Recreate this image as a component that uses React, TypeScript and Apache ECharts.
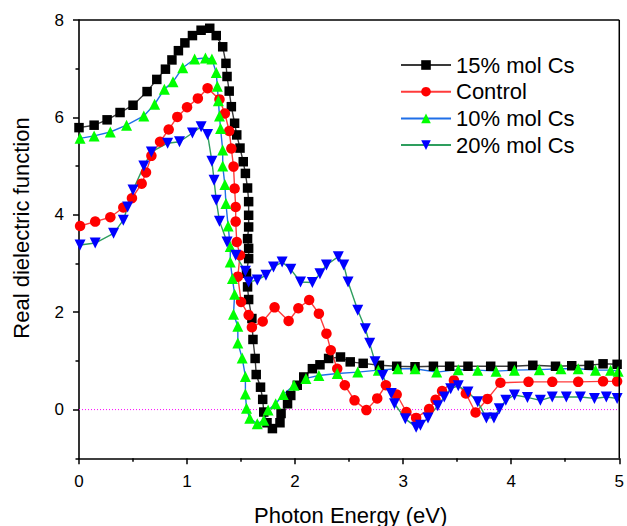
import React, { useEffect, useRef } from "react";
import * as echarts from "echarts";

const seriesNames = ["15% mol Cs", "Control", "10% mol Cs", "20% mol Cs"];

const cs15: number[][] = [
  [0.0, 5.79], [0.14, 5.84], [0.26, 5.95], [0.38, 6.1], [0.5, 6.25], [0.63, 6.53], [0.72, 6.78],
  [0.8, 6.99], [0.86, 7.18], [0.92, 7.37], [0.98, 7.53], [1.05, 7.68], [1.13, 7.79], [1.21, 7.83],
  [1.27, 7.68], [1.33, 7.45], [1.36, 7.11], [1.37, 6.84], [1.39, 6.54], [1.41, 6.22], [1.44, 5.88],
  [1.46, 5.64], [1.49, 5.37], [1.52, 5.09], [1.54, 4.85], [1.56, 4.55], [1.57, 4.27], [1.57, 3.99],
  [1.57, 3.75], [1.56, 3.51], [1.57, 3.31], [1.57, 3.1], [1.55, 2.8], [1.56, 2.52], [1.57, 2.26],
  [1.6, 1.87], [1.61, 1.44], [1.63, 1.05], [1.64, 0.72], [1.68, 0.46], [1.7, 0.21], [1.71, -0.05],
  [1.74, -0.27], [1.79, -0.39], [1.86, -0.27], [1.87, -0.08], [1.93, 0.12], [1.96, 0.29], [2.02, 0.5],
  [2.08, 0.67], [2.16, 0.84], [2.23, 0.92], [2.31, 1.05], [2.42, 1.08], [2.51, 0.98], [2.63, 0.95],
  [2.78, 0.91], [2.94, 0.89], [3.11, 0.88], [3.28, 0.89], [3.43, 0.89], [3.6, 0.89], [3.81, 0.89],
  [4.01, 0.89], [4.2, 0.91], [4.41, 0.89], [4.56, 0.9], [4.72, 0.91], [4.85, 0.94], [4.98, 0.93],
];

const control: number[][] = [
  [0.01, 3.77], [0.15, 3.86], [0.29, 3.95], [0.41, 4.15], [0.49, 4.34], [0.58, 4.64], [0.62, 4.87],
  [0.67, 5.21], [0.75, 5.5], [0.83, 5.75], [0.91, 6.01], [1.0, 6.21], [1.1, 6.39], [1.19, 6.6],
  [1.3, 6.37], [1.35, 6.08], [1.39, 5.72], [1.41, 5.36], [1.43, 4.99], [1.44, 4.54], [1.45, 4.16],
  [1.45, 3.86], [1.46, 3.44], [1.49, 3.17], [1.47, 2.73], [1.5, 2.21], [1.57, 1.94], [1.6, 1.69],
  [1.7, 1.81], [1.81, 2.1], [1.94, 1.82], [2.03, 2.08], [2.13, 2.25], [2.22, 1.97], [2.29, 1.56],
  [2.33, 1.22], [2.39, 0.84], [2.46, 0.5], [2.55, 0.19], [2.66, -0.01], [2.76, 0.23], [2.84, 0.5],
  [2.94, 0.31], [3.03, -0.05], [3.12, -0.17], [3.24, 0.01], [3.3, 0.2], [3.36, 0.38], [3.47, 0.6],
  [3.58, 0.33], [3.67, -0.06], [3.78, 0.22], [3.9, 0.55], [4.16, 0.57], [4.38, 0.57], [4.62, 0.57],
  [4.85, 0.58], [4.98, 0.58],
];

const cs10: number[][] = [
  [0.01, 5.57], [0.14, 5.62], [0.29, 5.7], [0.44, 5.84], [0.6, 6.03], [0.7, 6.27], [0.79, 6.58],
  [0.87, 6.73], [0.96, 7.02], [1.07, 7.2], [1.17, 7.22], [1.23, 7.2], [1.27, 6.92], [1.28, 6.64],
  [1.29, 6.34], [1.3, 6.03], [1.31, 5.77], [1.33, 5.33], [1.33, 5.0], [1.35, 4.62], [1.36, 4.23],
  [1.38, 3.77], [1.4, 3.35], [1.4, 3.03], [1.42, 2.69], [1.44, 2.37], [1.43, 1.96], [1.47, 1.71],
  [1.47, 1.37], [1.51, 1.06], [1.54, 0.68], [1.54, 0.32], [1.55, 0.03], [1.58, -0.18], [1.65, -0.29],
  [1.71, -0.22], [1.75, -0.01], [1.82, 0.12], [1.89, 0.31], [1.99, 0.5], [2.1, 0.64], [2.22, 0.7],
  [2.39, 0.74], [2.58, 0.77], [2.77, 0.81], [2.95, 0.84], [3.11, 0.84], [3.31, 0.77], [3.51, 0.82],
  [3.69, 0.81], [3.86, 0.79], [4.03, 0.81], [4.26, 0.82], [4.46, 0.84], [4.62, 0.84], [4.78, 0.81],
  [4.92, 0.81], [4.99, 0.79],
];

const cs20: number[][] = [
  [0.01, 3.38], [0.15, 3.42], [0.32, 3.62], [0.41, 3.89], [0.45, 4.16], [0.5, 4.51], [0.6, 5.0],
  [0.67, 5.29], [0.82, 5.47], [0.93, 5.5], [1.05, 5.68], [1.13, 5.81], [1.19, 5.65], [1.23, 5.1],
  [1.25, 4.71], [1.27, 4.3], [1.3, 3.87], [1.37, 3.44], [1.45, 3.17], [1.54, 2.84], [1.57, 2.62],
  [1.65, 2.66], [1.73, 2.76], [1.8, 2.93], [1.88, 3.03], [1.96, 2.88], [2.05, 2.62], [2.16, 2.61],
  [2.23, 2.79], [2.29, 2.97], [2.4, 3.14], [2.45, 2.97], [2.49, 2.62], [2.58, 2.04], [2.65, 1.66],
  [2.69, 1.36], [2.74, 0.98], [2.81, 0.7], [2.89, 0.33], [2.92, 0.12], [3.02, -0.19], [3.12, -0.36],
  [3.16, -0.32], [3.23, -0.17], [3.32, 0.08], [3.38, 0.26], [3.44, 0.43], [3.51, 0.49], [3.6, 0.36],
  [3.69, 0.16], [3.77, -0.17], [3.84, -0.17], [3.89, 0.02], [3.95, 0.19], [4.03, 0.3], [4.15, 0.25],
  [4.27, 0.19], [4.38, 0.26], [4.51, 0.26], [4.64, 0.26], [4.77, 0.23], [4.88, 0.26], [4.98, 0.23],
];

const zeroLine: number[][] = [
  [0, 0],
  [5, 0],
];

const X_MIN = 0;
const X_MAX = 5;
const Y_MIN = -1;
const Y_MAX = 8;
const yMajorTicks = [0, 2, 4, 6, 8];
const yMinorTicks = [-1, 1, 3, 5, 7];

const xTitle = "Photon Energy (eV)";
const yTitle = "Real dielectric function";

const FONT = "Liberation Sans";

export default function App() {
  const ref = useRef<HTMLDivElement>(null);

  useEffect(() => {
    if (!ref.current) return;
    const chart = echarts.init(ref.current, undefined, { renderer: "svg" });

    const mkSeries = (
      name: string,
      data: number[][],
      symbol: string,
      size: number,
      markerColor: string,
      lineColor: string,
      rotate = 0
    ) => ({
      name,
      type: "line",
      data,
      symbol,
      symbolSize: size,
      symbolRotate: rotate,
      showAllSymbol: true,
      itemStyle: { color: markerColor, borderWidth: 0 },
      lineStyle: { color: lineColor, width: 1.4 },
      emphasis: { disabled: true },
      z: 3,
    });

    chart.setOption({
      animation: false,
      backgroundColor: "#ffffff",
      textStyle: { fontFamily: FONT },
      grid: {
        left: 79,
        top: 20,
        right: 4.5,
        bottom: 67.7,
        show: false,
      },
      legend: {
        orient: "vertical",
        left: 400,
        top: 54,
        padding: 0,
        itemWidth: 50,
        itemHeight: 12,
        itemGap: 4.7,
        data: seriesNames,
        textStyle: { fontSize: 22, fontFamily: FONT, color: "#000", lineHeight: 22 },
        selectedMode: false,
      },
      xAxis: {
        type: "value",
        min: X_MIN,
        max: X_MAX,
        interval: 1,
        axisLine: { show: true, onZero: false, lineStyle: { color: "#000", width: 1.6 } },
        axisTick: { show: true, length: 6, lineStyle: { color: "#000", width: 1.5 } },
        minorTick: { show: true, splitNumber: 2, length: 3.5, lineStyle: { color: "#000", width: 1.5 } },
        splitLine: { show: false },
        minorSplitLine: { show: false },
        axisLabel: { fontSize: 17, color: "#000", margin: 15, fontFamily: FONT },
      },
      yAxis: [
        {
          type: "value",
          min: Y_MIN,
          max: Y_MAX,
          position: "left",
          axisLine: { show: true, onZero: false, lineStyle: { color: "#000", width: 1.6 } },
          axisTick: { show: true, length: 6, customValues: yMajorTicks, lineStyle: { color: "#000", width: 1.5 } },
          splitLine: { show: false },
          axisLabel: { fontSize: 17, color: "#000", margin: 15, fontFamily: FONT, customValues: yMajorTicks },
        },
        {
          type: "value",
          min: Y_MIN,
          max: Y_MAX,
          position: "left",
          axisLine: { show: false, onZero: false },
          axisTick: { show: true, length: 3.5, customValues: yMinorTicks, lineStyle: { color: "#000", width: 1.5 } },
          splitLine: { show: false },
          axisLabel: { show: false },
        },
      ],
      series: [
        {
          name: "zero",
          type: "line",
          data: zeroLine,
          symbol: "none",
          silent: true,
          z: 1,
          itemStyle: { color: "#ff00ff" },
          lineStyle: { color: "#ff00ff", type: [1, 2], width: 1 },
          emphasis: { disabled: true },
        },
        mkSeries(seriesNames[0], cs15, "rect", 9.5, "#000000", "#3a3a3a"),
        mkSeries(seriesNames[1], control, "circle", 10.5, "#ff0000", "#ff3b3b"),
        mkSeries(seriesNames[2], cs10, "triangle", 11, "#00ff00", "#1f6fe8"),
        mkSeries(seriesNames[3], cs20, "triangle", 11, "#0000ff", "#2e9e5e", 180),
      ],
    });

    const tl = chart.convertToPixel({ xAxisIndex: 0, yAxisIndex: 0 }, [X_MIN, Y_MAX]) as number[];
    const br = chart.convertToPixel({ xAxisIndex: 0, yAxisIndex: 0 }, [X_MAX, Y_MIN]) as number[];

    const graphics: any[] = [
      {
        type: "text",
        x: 350.7,
        y: 515,
        style: {
          text: xTitle,
          font: `22px "${FONT}"`,
          fill: "#000",
          align: "center",
          verticalAlign: "middle",
        },
      },
      {
        type: "text",
        x: 21,
        y: 228,
        rotation: Math.PI / 2,
        style: {
          text: yTitle,
          font: `22px "${FONT}"`,
          fill: "#000",
          align: "center",
          verticalAlign: "middle",
        },
      },
    ];
    if (tl && br) {
      graphics.push(
        {
          type: "line",
          z: 100,
          silent: true,
          shape: { x1: tl[0], y1: tl[1], x2: br[0], y2: tl[1] },
          style: { stroke: "#000000", lineWidth: 1.5 },
        },
        {
          type: "line",
          z: 100,
          silent: true,
          shape: { x1: br[0], y1: tl[1], x2: br[0], y2: br[1] },
          style: { stroke: "#000000", lineWidth: 1.5 },
        }
      );
    }
    chart.setOption({ graphic: graphics });

    return () => chart.dispose();
  }, []);

  return (
    <div
      ref={ref}
      style={{ position: "absolute", left: 0, top: 0, width: 627, height: 526, background: "#fff" }}
    />
  );
}
